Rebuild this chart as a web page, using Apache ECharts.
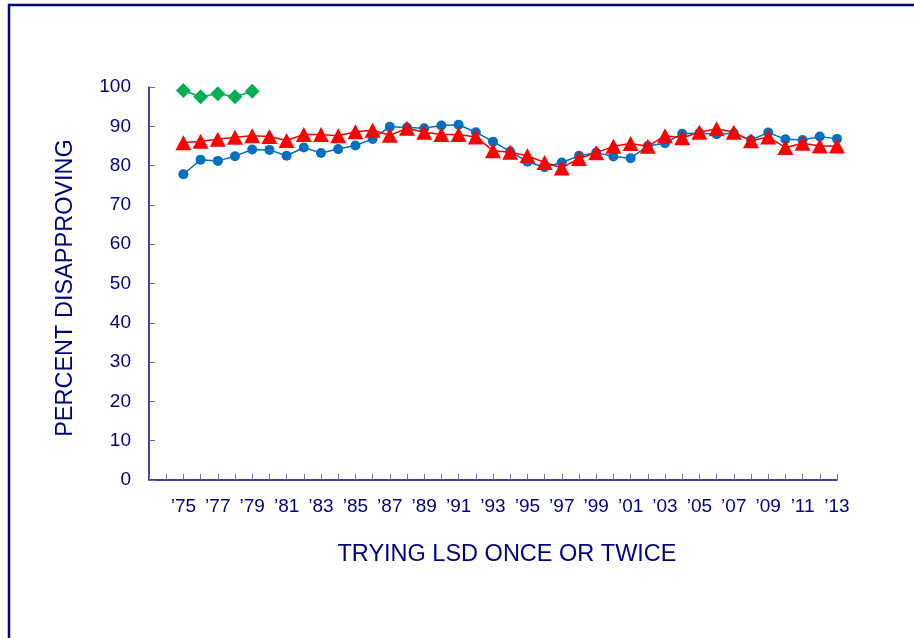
<!DOCTYPE html>
<html>
<head>
<meta charset="utf-8">
<script src="https://cdn.jsdelivr.net/npm/echarts@6/dist/echarts.min.js"></script>
<style>html,body{margin:0;padding:0;background:#fff}#c{width:914px;height:638px}</style>
</head>
<body>
<div id="c"></div>
<script>
const years = [1975,1976,1977,1978,1979,1980,1981,1982,1983,1984,1985,1986,1987,1988,1989,1990,1991,1992,1993,1994,1995,1996,1997,1998,1999,2000,2001,2002,2003,2004,2005,2006,2007,2008,2009,2010,2011,2012,2013];
const blueValues = [77.8,81.5,81.2,82.4,84.1,84.0,82.5,84.6,83.2,84.2,85.1,86.8,89.9,89.7,89.5,90.2,90.4,88.5,86.1,83.6,81.0,79.6,80.8,82.5,83.3,82.3,81.9,85.0,85.7,88.1,88.3,88.0,88.2,86.5,88.4,86.7,86.5,87.4,86.8];
const redValues = [85.8,86.2,86.7,87.2,87.6,87.4,86.4,87.9,87.9,87.6,88.6,89.0,87.7,89.5,88.5,87.9,87.9,87.3,83.8,83.4,82.5,80.8,79.4,81.8,83.3,84.9,85.6,84.9,87.6,87.1,88.5,89.4,88.5,86.3,87.3,84.6,85.7,85.0,85.0];
const greenYears = [1975,1976,1977,1978,1979];
const greenValues = [99.1,97.5,98.3,97.5,98.9];
const yTicks = [0,10,20,30,40,50,60,70,80,90,100];
const xName = 'TRYING LSD ONCE OR TWICE';
const yName = 'PERCENT DISAPPROVING';

const navy = '#000080';
const pairs = (xs, vs) => xs.map((x, i) => [x, vs[i]]);

const chart = echarts.init(document.getElementById('c'));
chart.setOption({
  animation: false,
  backgroundColor: '#fff',
  grid: {left: 149, right: 77, top: 87, bottom: 158},
  xAxis: {
    type: 'value', min: 1973, max: 2013, interval: 1,
    axisLine: {show: true, lineStyle: {color: navy, width: 1.5}},
    axisTick: {show: true, inside: true, length: 6, lineStyle: {color: '#6a6aa8', width: 1}},
    splitLine: {show: false},
    axisLabel: {
      color: navy, fontSize: 19, fontFamily: 'Liberation Sans, Arial, sans-serif', margin: 17,
      formatter: v => (v >= 1975 && v % 2 === 1) ? '\u2019' + String(v).slice(2) : ''
    }
  },
  yAxis: {
    type: 'value', min: yTicks[0], max: yTicks[yTicks.length - 1], interval: 10,
    axisLine: {show: true, lineStyle: {color: navy, width: 1.5}},
    axisTick: {show: true, inside: true, length: 6, lineStyle: {color: '#6a6aa8', width: 1}},
    splitLine: {show: false},
    axisLabel: {color: navy, fontSize: 19, fontFamily: 'Liberation Sans, Arial, sans-serif', margin: 18}
  },
  graphic: [
    {type: 'rect', shape: {x: 9, y: 5, width: 1200, height: 1200}, style: {fill: null, stroke: navy, lineWidth: 2.5}, z: 100},
    {type: 'text', x: 507, y: 555, style: {text: xName, fill: navy, font: '23.5px "Liberation Sans", Arial, sans-serif', textAlign: 'center', textVerticalAlign: 'middle'}},
    {type: 'text', x: 66, y: 288, rotation: Math.PI / 2, style: {text: yName, fill: navy, font: '23.5px "Liberation Sans", Arial, sans-serif', textAlign: 'center', textVerticalAlign: 'middle'}}
  ],
  series: [
    {type: 'line', data: pairs(years, blueValues), symbol: 'circle', symbolSize: 10,
     itemStyle: {color: '#0070C0'}, lineStyle: {color: '#0070C0', width: 1.5}, z: 2},
    {type: 'line', data: pairs(years, redValues), symbol: 'triangle', symbolSize: [16, 15],
     itemStyle: {color: '#FF0000'}, lineStyle: {color: '#FF0000', width: 1.5}, z: 3},
    {type: 'line', data: pairs(greenYears, greenValues), symbol: 'diamond', symbolSize: 15,
     itemStyle: {color: '#00B050'}, lineStyle: {color: '#00B050', width: 1.5}, z: 4}
  ]
});
</script>
</body>
</html>
